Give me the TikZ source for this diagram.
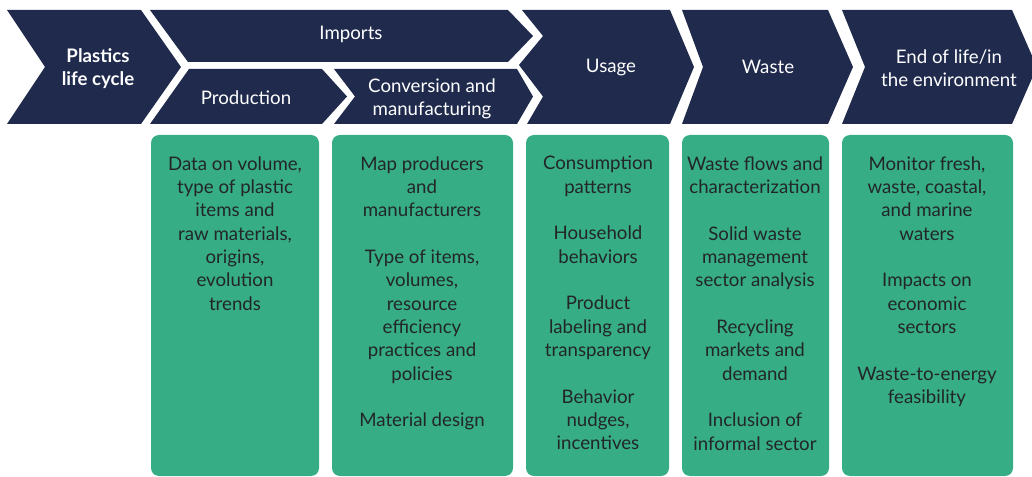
\documentclass[tikz,border=0pt]{standalone}
\usepackage{fontspec}
\setmainfont{Lato}
\definecolor{NavyBand}{RGB}{31,42,77}
\definecolor{LeafGreen}{RGB}{54,173,133}
\definecolor{InkGray}{RGB}{35,38,40}

\begin{document}
\begin{tikzpicture}[x=0.75pt, y=-0.75pt,
    band/.style={fill=NavyBand},
    bandlabel/.style={text=white, align=center, inner sep=0pt, font=\fontsize{14}{17.5}\selectfont},
    infobox/.style={fill=LeafGreen, rounded corners=6pt},
    infotext/.style={text=InkGray, align=center, anchor=north, inner sep=0pt, font=\fontsize{14}{17.5}\selectfont}
  ]
    \clip (0,0) rectangle (1032,477);

    % chevrons
    \fill[band] (7,10) -- (141,10) -- (181,67) -- (141,124) -- (7,124) -- (45,67) -- cycle;
    \fill[band] (150,10) -- (508,10) -- (533,36) -- (508,62) -- (188,62) -- cycle;
    \fill[band] (189,69) -- (322,69) -- (347,96.5) -- (322,124) -- (150,124) -- cycle;
    \fill[band] (334,69) -- (517,69) -- (533,96.5) -- (517,124) -- (334,124) -- (355,96.5) -- cycle;
    \fill[band] (522,10) -- (670,10) -- (694,67) -- (670,124) -- (527,124) -- (543,96.5) -- (519,65) -- (543,36) -- cycle;
    \fill[band] (682,10) -- (828,10) -- (853,67) -- (828,124) -- (682,124) -- (703,67) -- cycle;
    \fill[band] (842,10) -- (1012,10) -- (1037,67) -- (1012,124) -- (842,124) -- (865,67) -- cycle;

    \node[bandlabel, font=\fontsize{14}{17.5}\selectfont\bfseries] (cycle) at (98,68.5) {Plastics\\life cycle};
    \node[bandlabel] (imports) at (351,34) {Imports};
    \node[bandlabel] (production) at (246,97.5) {Production};
    \node[bandlabel] (conversion) at (432,99) {Conversion and\\manufacturing};
    \node[bandlabel] (usage) at (611,68) {Usage};
    \node[bandlabel] (waste) at (768,66.5) {Waste};
    \node[bandlabel] (endoflife) at (949,68) {End of life/in\\the environment};

    % green columns
    \fill[infobox] (151,135) rectangle (319,476);
    \fill[infobox] (332,135) rectangle (513,476);
    \fill[infobox] (526,135) rectangle (669,476);
    \fill[infobox] (682,135) rectangle (829,476);
    \fill[infobox] (842,135) rectangle (1013,476);

    \node[infotext] (prodtxt) at (235,156) {Data on volume,\\type of plastic\\items and\\raw materials,\\origins,\\evolution\\trends};
    \node[infotext] (convtxt) at (422,156) {Map producers\\and\\manufacturers\\[17.5pt]Type of items,\\volumes,\\resource\\efficiency\\practices and\\policies\\[17.5pt]Material design};
    \node[infotext] (usagetxt) at (598,156) {Consumption\\patterns\\[17.5pt]Household\\behaviors\\[17.5pt]Product\\labeling and\\transparency\\[17.5pt]Behavior\\nudges,\\incentives};
    \node[infotext] (wastetxt) at (755,156) {Waste flows and\\characterization\\[17.5pt]Solid waste\\management\\sector analysis\\[17.5pt]Recycling\\markets and\\demand\\[17.5pt]Inclusion of\\informal sector};
    \node[infotext] (endtxt) at (927,156) {Monitor fresh,\\waste, coastal,\\and marine\\waters\\[17.5pt]Impacts on\\economic\\sectors\\[17.5pt]Waste-to-energy\\feasibility};
\end{tikzpicture}
\end{document}
